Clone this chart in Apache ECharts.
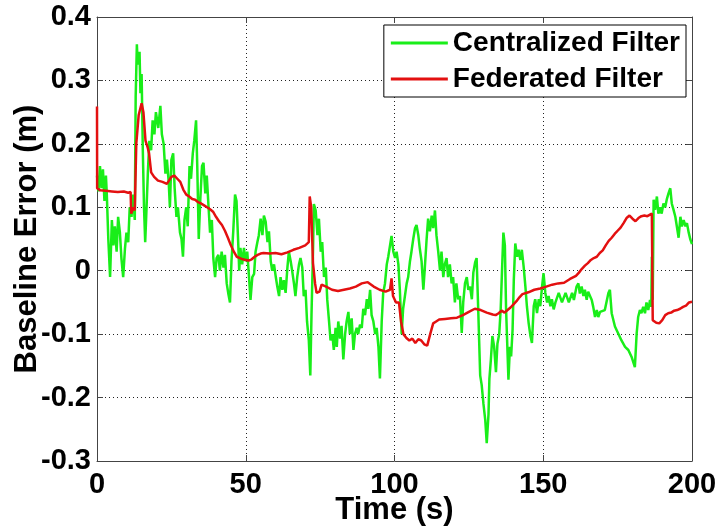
<!DOCTYPE html>
<html>
<head>
<meta charset="utf-8">
<script src="https://cdn.jsdelivr.net/npm/echarts@6/dist/echarts.min.js"></script>
<style>
html,body{margin:0;padding:0;background:#fff;}
#chart{width:719px;height:531px;}
</style>
</head>
<body>
<div id="chart"></div>
<script>
const seriesNames = ['Centralized Filter', 'Federated Filter'];
const xTicks = [0, 50, 100, 150, 200];
const yTickLabels = ['-0.3', '-0.2', '-0.1', '0', '0.1', '0.2', '0.3', '0.4'];

const centralizedT = [0,0.5,1,1.5,2,2.5,3,3.3,3.8,4.4,5,5.5,6,6.6,7.1,7.7,8.2,8.8,9.4,9.9,10.5,11,11.6,12.1,12.7,13,13.4,13.7,14.3,14.6,15,15.4,15.8,16.2,16.5,17.1,17.6,18.2,18.7,19.3,19.8,20.6,21.3,21.8,22.4,23,23.5,24.1,24.5,25,25.6,26.1,26.7,27.2,27.9,28.4,28.9,29.4,30,30.5,31.1,31.6,32.2,32.7,33.3,33.7,34.2,34.7,35.3,35.8,36.4,36.9,37.5,38,38.6,39.1,39.7,40.2,40.8,41.3,41.9,42.5,43,43.6,44.1,44.7,45.2,45.8,46.4,46.9,47.5,47.8,48.2,48.8,49.4,49.9,50.5,51.1,51.6,52.2,52.8,53.3,53.9,54.4,55,55.6,56.1,56.7,57.3,57.8,58.4,58.9,59.5,60.1,60.6,61.2,61.7,62.3,62.8,63.4,64,64.5,65.1,65.6,66.2,66.7,67.3,67.9,68.4,69,69.5,70.1,70.6,71.2,71.7,72.1,72.6,72.9,73.5,74.1,74.6,75.2,75.7,76.3,76.9,77.4,78,78.5,79.1,79.6,80.2,80.6,81.1,81.7,82.2,82.8,83.4,83.9,84.5,85,85.6,86.2,86.7,87.3,87.8,88.4,89,89.5,90.1,90.7,91.2,91.8,92.3,92.9,93.5,94,94.6,95.1,95.7,96.2,96.8,97.4,97.9,98.5,99,99.6,100.2,100.7,101.3,101.8,102.4,102.9,103.5,104.1,104.6,105.2,105.7,106.3,106.9,107.4,108,108.5,109.1,109.7,110.2,110.8,111.3,111.9,112.5,113,113.6,114.1,114.7,115.3,115.8,116.4,116.9,117.5,118,118.6,119.2,119.7,120.3,120.8,121.4,122,122.6,123.1,123.7,124.3,124.8,125.4,126,126.5,127.1,127.6,128.2,128.8,129.3,129.9,130.5,131,131.6,131.9,132.4,132.9,133.5,134.1,134.6,135.2,135.7,136.2,136.6,137.1,137.5,138,138.3,138.8,139.2,139.7,140.1,140.6,141.2,141.7,142.3,142.8,143.4,144,144.5,145.1,145.7,146.2,146.8,147.3,147.9,148.5,149,149.6,150.1,150.7,151.3,151.8,152.4,152.9,153.5,154.1,155.2,156.3,157.5,158.6,159.7,160.3,161.2,161.8,162.3,162.9,163.5,164,164.6,165.1,165.7,166.3,166.8,167.4,168,168.5,169.1,169.6,170.7,171.9,172.4,173,174.1,175.2,176.3,177.5,178.6,179.7,180.8,181.4,181.9,182.5,183,183.6,184.2,184.7,185.3,185.9,186.3,186.5,186.8,187.1,187.6,188.2,188.7,189.3,189.8,190.4,191,191.5,192.1,192.7,193.2,193.8,194.4,194.9,195.5,196.1,196.6,197.2,197.8,198.3,198.9,199.4,200];
const centralizedV = [0.15,0.125,0.165,0.13,0.16,0.11,0.15,0.12,0.05,-0.01,0.08,0.04,0.07,0.03,0.085,0.06,0.02,-0.01,0.035,0.06,0.045,0.1,0.085,0.12,0.08,0.274,0.357,0.325,0.345,0.28,0.31,0.19,0.1,0.045,0.08,0.155,0.205,0.19,0.237,0.215,0.25,0.225,0.26,0.215,0.2,0.153,0.175,0.14,0.1,0.175,0.185,0.13,0.085,0.1,0.06,0.05,0.022,0.08,0.1,0.07,0.165,0.145,0.185,0.205,0.237,0.165,0.05,0.11,0.165,0.17,0.122,0.15,0.1,0.06,0.08,0.02,-0.01,0.02,0.025,0.0,0.03,0.005,0.025,-0.02,-0.035,-0.05,0.015,0.062,0.12,0.11,0.04,0.0,0.036,0.01,0.036,0.015,0.03,-0.01,-0.046,-0.01,-0.005,0.03,0.045,0.056,0.082,0.056,0.087,0.077,0.045,0.062,0.015,0.0,0.01,-0.01,-0.025,-0.04,-0.01,-0.03,-0.015,-0.035,0.005,0.03,0.015,0.0,-0.02,-0.04,-0.01,0.01,0.02,0.005,-0.04,-0.03,-0.08,-0.11,-0.165,-0.07,0.03,0.105,0.095,0.056,0.082,0.03,0.045,-0.01,0.005,-0.046,-0.08,-0.11,-0.1,-0.125,-0.09,-0.12,-0.08,-0.107,-0.087,-0.14,-0.1,-0.08,-0.065,-0.1,-0.075,-0.125,-0.1,-0.09,-0.1,-0.085,-0.09,-0.06,-0.07,-0.045,-0.06,-0.03,-0.07,-0.08,-0.1,-0.09,-0.12,-0.17,-0.08,-0.035,-0.02,0.01,0.022,0.04,0.055,0.03,0.02,0.03,0.01,-0.03,-0.1,-0.06,-0.04,-0.02,-0.01,0.015,0.03,0.05,0.067,0.072,0.056,0.035,0.015,-0.03,0.005,0.05,0.082,0.062,0.087,0.067,0.095,0.056,0.03,0.0,0.03,-0.01,0.01,0.02,-0.01,0.01,-0.02,-0.01,-0.05,-0.02,-0.045,-0.04,-0.098,-0.05,-0.02,-0.01,-0.03,-0.025,-0.045,-0.003,0.013,0.02,-0.07,-0.165,-0.18,-0.21,-0.235,-0.272,-0.226,-0.17,-0.14,-0.103,-0.12,-0.16,-0.115,-0.1,-0.06,0.008,0.06,0.04,-0.06,-0.13,-0.172,-0.12,-0.135,-0.092,-0.015,0.043,0.022,0.033,0.017,0.033,0.007,-0.025,-0.056,-0.083,-0.103,-0.114,-0.056,-0.045,-0.067,-0.045,-0.056,-0.025,-0.004,-0.035,-0.05,-0.04,-0.056,-0.045,-0.061,-0.05,-0.035,-0.05,-0.035,-0.05,-0.035,-0.046,-0.025,-0.02,-0.036,-0.025,-0.04,-0.03,-0.046,-0.033,-0.036,-0.046,-0.057,-0.073,-0.062,-0.073,-0.065,-0.067,-0.062,-0.035,-0.03,-0.067,-0.088,-0.099,-0.11,-0.12,-0.125,-0.136,-0.152,-0.099,-0.073,-0.062,-0.067,-0.057,-0.067,-0.05,-0.062,-0.046,-0.057,0.022,-0.046,0.112,0.096,0.117,0.09,0.1,0.09,0.106,0.1,0.112,0.122,0.13,0.106,0.096,0.085,0.07,0.052,0.085,0.07,0.08,0.07,0.075,0.06,0.05,0.042];

const federatedT = [0,0.05,1,3,5,7,9,10.5,11.3,11.5,12.2,12.7,13.2,14,15,15.6,16.3,17,17.5,18.2,19.2,20.5,22,23.5,25,26,27,28,29,30,31,32,33,34,35,36,37,38,39,40,41,42,43,44,45,46,47,48,49,50,51,52,53,54,55,56,58,60,62,64,66,68,70,71.2,71.5,72,72.6,73.3,73.8,74.8,75.5,77,79,81,83,85,87,89,91,93,95,97,98.5,99,99.5,100.5,101.5,102.2,103,104,105,106,107,108,109,110,111,112,113,114,115,117,119,121,123,125,127,129,131,133,134,135,136,137,138,139,140,141,142,143,145,147,149,151,153,155,157,159,161,162,163,164,165,166,167,168,169,170,171,172,173,174,175,176,177,178,179,180,181,182,183,184,185,186.5,186.8,188,189,190,191,192,193,194,195,196,197,198,199,200];
const federatedV = [0.259,0.13,0.127,0.126,0.125,0.124,0.125,0.123,0.124,0.09,0.1,0.095,0.2,0.245,0.264,0.25,0.205,0.195,0.185,0.155,0.148,0.142,0.14,0.137,0.148,0.15,0.145,0.14,0.128,0.12,0.117,0.113,0.112,0.108,0.106,0.103,0.1,0.097,0.093,0.085,0.078,0.072,0.063,0.052,0.04,0.03,0.022,0.02,0.018,0.017,0.016,0.018,0.022,0.025,0.027,0.028,0.027,0.028,0.026,0.029,0.033,0.036,0.04,0.045,0.117,0.1,0.012,-0.02,-0.035,-0.033,-0.022,-0.025,-0.03,-0.032,-0.03,-0.028,-0.025,-0.02,-0.018,-0.025,-0.03,-0.033,-0.03,-0.012,-0.04,-0.05,-0.05,-0.08,-0.1,-0.106,-0.11,-0.107,-0.114,-0.108,-0.11,-0.116,-0.118,-0.1,-0.083,-0.08,-0.077,-0.076,-0.075,-0.074,-0.07,-0.065,-0.06,-0.062,-0.066,-0.069,-0.07,-0.067,-0.063,-0.066,-0.062,-0.058,-0.053,-0.048,-0.042,-0.037,-0.034,-0.03,-0.028,-0.025,-0.022,-0.02,-0.019,-0.013,-0.008,-0.003,0.003,0.008,0.012,0.017,0.02,0.022,0.028,0.032,0.04,0.047,0.052,0.058,0.063,0.068,0.075,0.083,0.087,0.082,0.078,0.083,0.086,0.087,0.086,0.09,-0.078,-0.082,-0.083,-0.078,-0.07,-0.067,-0.066,-0.063,-0.062,-0.06,-0.057,-0.055,-0.05,-0.049];

const pairs = (t, v) => t.map((x, i) => [x, v[i]]);
const FONT = "'Liberation Sans', Arial, sans-serif";

const chart = echarts.init(document.getElementById('chart'), null, {renderer: 'canvas'});
const axisLine = {show: true, onZero: false, lineStyle: {color: '#444', width: 1}};
const tick = {show: true, inside: true, length: 6, lineStyle: {color: '#444'}};

chart.setOption({
  animation: false,
  backgroundColor: '#fff',
  grid: {left: 97, right: 27, top: 17, bottom: 70, containLabel: false, outerBoundsMode: 'none'},
  legend: {
    orient: 'vertical',
    right: 33, top: 25,
    backgroundColor: '#fff',
    borderColor: '#000', borderWidth: 1,
    padding: [4, 6, 4, 7],
    itemGap: 8,
    itemWidth: 57, itemHeight: 3,
    icon: 'rect',
    textStyle: {fontFamily: FONT, fontWeight: 'bold', fontSize: 28, color: '#000'},
    data: seriesNames
  },
  xAxis: [{
    type: 'value', min: 0, max: 200, interval: 50,
    name: 'Time (s)', nameLocation: 'middle', nameGap: 34, nameMoveOverlap: false,
    nameTextStyle: {fontFamily: FONT, fontWeight: 'bold', fontSize: 31, color: '#000'},
    axisLine: axisLine, axisTick: tick,
    axisLabel: {fontFamily: FONT, fontWeight: 'bold', fontSize: 29, color: '#000', margin: 9,
      formatter: v => xTicks.includes(v) ? String(v) : ''},
    splitLine: {show: true, lineStyle: {color: '#222', width: 1, type: [1, 3]}}
  }, {
    type: 'value', min: 0, max: 200, interval: 50, position: 'top',
    axisLine: axisLine, axisTick: tick,
    axisLabel: {show: false}, splitLine: {show: false}
  }],
  yAxis: [{
    type: 'value', min: -0.3, max: 0.4, interval: 0.1,
    name: 'Baseline Error (m)', nameLocation: 'middle', nameGap: 54, nameMoveOverlap: false,
    nameTextStyle: {fontFamily: FONT, fontWeight: 'bold', fontSize: 31, color: '#000'},
    axisLine: axisLine, axisTick: tick,
    axisLabel: {fontFamily: FONT, fontWeight: 'bold', fontSize: 29, color: '#000', margin: 6,
      formatter: v => yTickLabels[Math.round((v + 0.3) * 10)]},
    splitLine: {show: true, lineStyle: {color: '#222', width: 1, type: [1, 3]}}
  }, {
    type: 'value', min: -0.3, max: 0.4, interval: 0.1, position: 'right',
    axisLine: axisLine, axisTick: tick,
    axisLabel: {show: false}, splitLine: {show: false}
  }],
  series: [{
    name: seriesNames[0], type: 'line', symbol: 'none',
    lineStyle: {color: '#19ee19', width: 2.5}, itemStyle: {color: '#19ee19'},
    data: pairs(centralizedT, centralizedV)
  }, {
    name: seriesNames[1], type: 'line', symbol: 'none',
    lineStyle: {color: '#e31010', width: 2.5}, itemStyle: {color: '#e31010'},
    data: pairs(federatedT, federatedV)
  }]
});
</script>
</body>
</html>
